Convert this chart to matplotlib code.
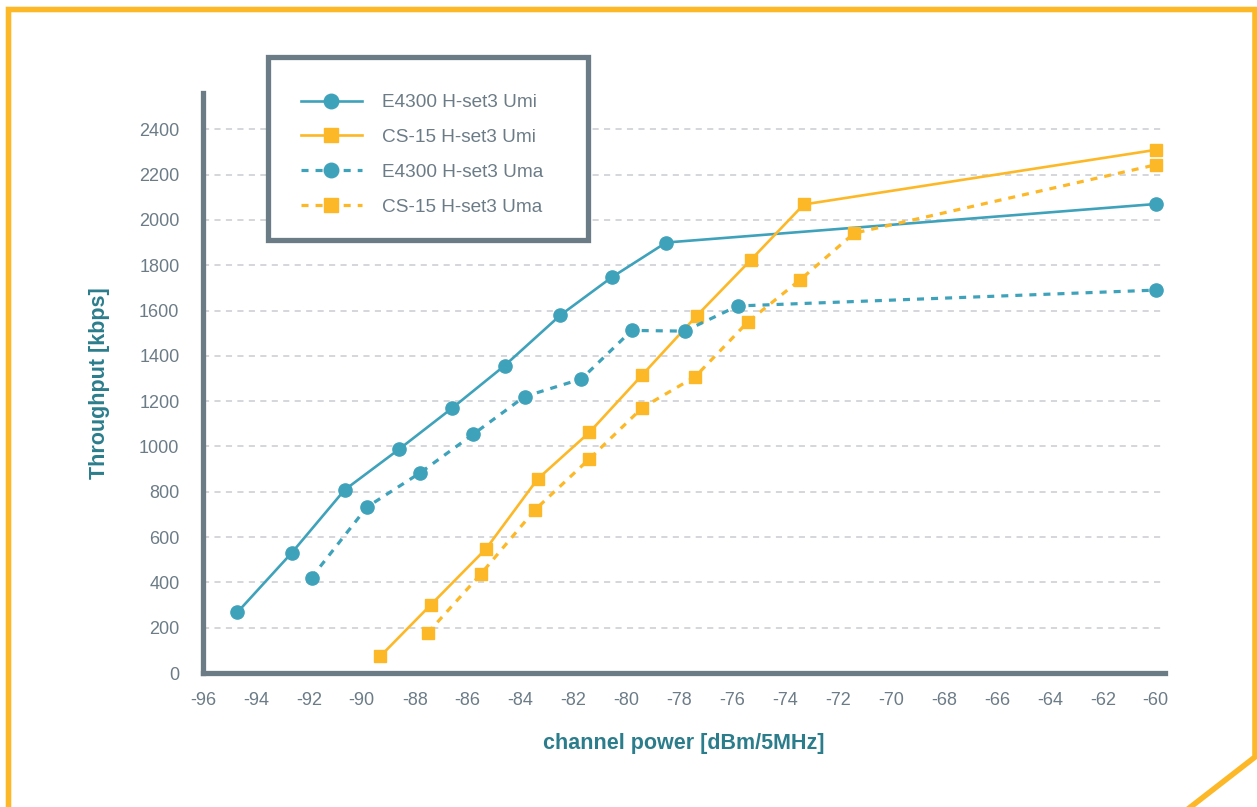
import matplotlib
matplotlib.use("Agg")
import matplotlib.pyplot as plt
from matplotlib.lines import Line2D
from matplotlib.patches import Rectangle

plt.rcParams['font.family'] = ['Liberation Sans', 'DejaVu Sans']

# ---- data ----
e4300_umi_x = [-94.7, -92.65, -90.65, -88.6, -86.6, -84.6, -82.5, -80.55, -78.5, -60]
e4300_umi_y = [268, 530, 808, 987, 1168, 1357, 1579, 1747, 1900, 2070]
cs15_umi_x = [-89.3, -87.4, -85.3, -83.35, -81.4, -79.4, -77.35, -75.3, -73.3, -60]
cs15_umi_y = [74, 300, 549, 857, 1062, 1316, 1576, 1823, 2068, 2309]
e4300_uma_x = [-91.9, -89.8, -87.8, -85.8, -83.85, -81.7, -79.8, -77.8, -75.8, -60]
e4300_uma_y = [421, 733, 883, 1053, 1220, 1298, 1512, 1509, 1620, 1690]
cs15_uma_x = [-87.5, -85.5, -83.45, -81.4, -79.4, -77.4, -75.4, -73.45, -71.4, -60]
cs15_uma_y = [178, 437, 721, 945, 1171, 1308, 1551, 1734, 1941, 2243]

labels = ["E4300 H-set3 Umi", "CS-15 H-set3 Umi", "E4300 H-set3 Uma", "CS-15 H-set3 Uma"]
x_ticks = list(range(-96, -59, 2))
y_ticks = list(range(0, 2401, 200))

TEAL = "#3fa2bb"
ORANGE = "#fdb827"
GRAY = "#6c7c87"
LABEL = "#2c7d8c"
GRID = "#c9cbd1"

W, H = 1257, 807
fig = plt.figure(figsize=(W / 100, H / 100), dpi=100)
fig.patch.set_facecolor("white")

ax_l, ax_r, ax_b, ax_t = 203, 1165, 673, 93
ax = fig.add_axes([ax_l / W, (H - ax_b) / H, (ax_r - ax_l) / W, (ax_b - ax_t) / H])

lw = 1.9
ax.plot(e4300_umi_x, e4300_umi_y, color=TEAL, lw=lw, marker="o", ms=9.5, label=labels[0], zorder=4)
ax.plot(cs15_umi_x, cs15_umi_y, color=ORANGE, lw=lw, marker="s", ms=8.8, label=labels[1], zorder=4)
ax.plot(e4300_uma_x, e4300_uma_y, color=TEAL, lw=lw + 0.4, ls=(0, (2.2, 2.2)), marker="o", ms=9.5,
        label=labels[2], zorder=4)
ax.plot(cs15_uma_x, cs15_uma_y, color=ORANGE, lw=lw + 0.4, ls=(0, (2.2, 2.2)), marker="s", ms=8.8,
        label=labels[3], zorder=4)

ax.set_xlim(-96, -59.65)
ax.set_ylim(0, 2560)
ax.set_xticks(x_ticks)
ax.set_yticks(y_ticks)
ax.set_xticklabels([str(v) for v in x_ticks])
ax.tick_params(axis="both", length=0, labelsize=13, colors=GRAY)
ax.tick_params(axis="y", pad=17)
ax.tick_params(axis="x", pad=14)

for v in y_ticks[1:]:
    ax.axhline(v, color=GRID, lw=1.1, ls=(0, (4, 3.5)), zorder=1)

for s in ["top", "right"]:
    ax.spines[s].set_visible(False)
for s in ["left", "bottom"]:
    ax.spines[s].set_color(GRAY)
    ax.spines[s].set_linewidth(3.8)

ax.set_xlabel("channel power [dBm/5MHz]", fontsize=15.5, fontweight="bold", color=LABEL, labelpad=17)
ax.set_ylabel("Throughput [kbps]", fontsize=15.5, fontweight="bold", color=LABEL, labelpad=21)

# legend box + legend
ax.add_patch(Rectangle((268 / W, 1 - 240 / H), (588 - 268) / W, (240 - 57) / H,
                       transform=fig.transFigure, fill=True, facecolor="white",
                       edgecolor=GRAY, lw=3.8, zorder=5, clip_on=False))
leg = ax.legend(loc="upper left", bbox_to_anchor=(301 / W, 1 - 94 / H), bbox_transform=fig.transFigure,
                frameon=False, fontsize=13.7, handlelength=3.2, handletextpad=1.05, labelspacing=0.92,
                borderaxespad=0, borderpad=0, markerscale=1.1)
for t in leg.get_texts():
    t.set_color(GRAY)
leg.set_zorder(6)

# orange frame
fx = [8.5, 8.5, 1255, 1255, 1188]
fy = [H + 5, 9.5, 9.5, 757, H + 2]
fig.add_artist(Line2D([x / W for x in fx], [1 - y / H for y in fy], transform=fig.transFigure,
                      color=ORANGE, lw=4.0, solid_joinstyle="miter"))

fig.savefig("out.png", dpi=100)
